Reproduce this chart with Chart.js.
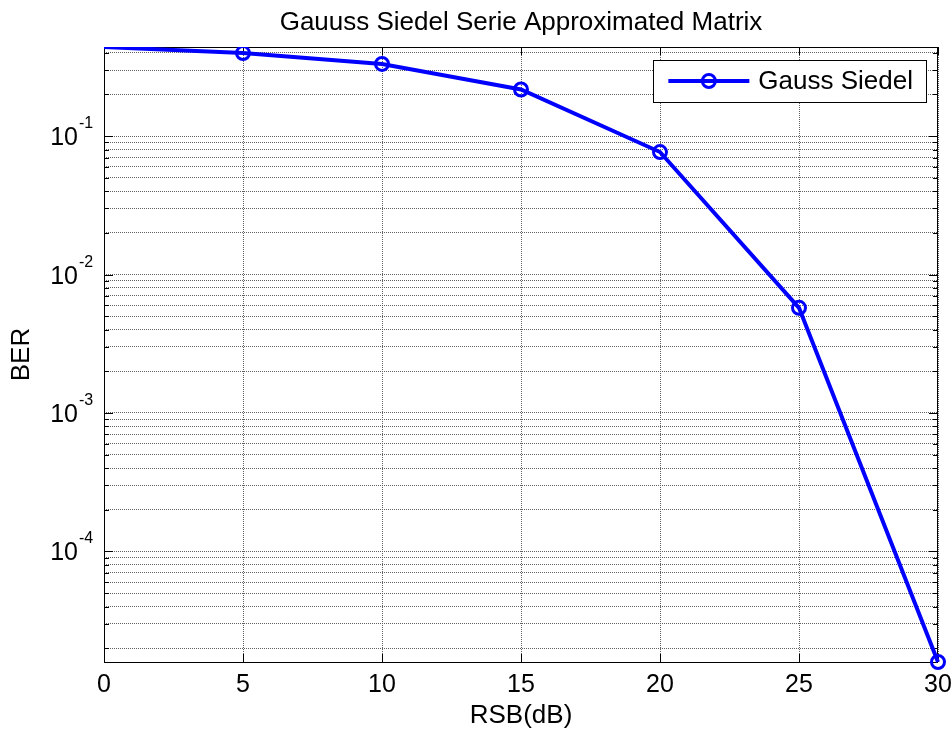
<!DOCTYPE html>
<html>
<head>
<meta charset="utf-8">
<script src="https://cdn.jsdelivr.net/npm/chart.js@4/dist/chart.umd.min.js"></script>
<style>
  html, body { margin: 0; padding: 0; background: #ffffff; }
  canvas { display: block; }
</style>
</head>
<body>
<canvas id="c" width="952" height="732"></canvas>
<script>
// ---- data ----
const snrDb = [0, 5, 10, 15, 20, 25, 30];
const ber = [0.44, 0.398, 0.332, 0.217, 0.0767, 0.00575, 1.59e-5];
const seriesLabel = 'Gauss Siedel';
const xTickValues = [0, 5, 10, 15, 20, 25, 30];
const yMajorTicks = [1e-4, 1e-3, 1e-2, 1e-1];
const yTickBase = '10';
const yTickExponents = ['-4', '-3', '-2', '-1'];
const chartTitle = 'Gauuss Siedel Serie Approximated Matrix';
const xAxisTitle = 'RSB(dB)';
const yAxisTitle = 'BER';

const yMin = Math.min(...ber);
const yMax = Math.max(...ber);
const FONT = '"Liberation Sans", Arial, Helvetica, sans-serif';
const BLUE = '#0000ff';
const GRID = '#5f5f5f';

Chart.defaults.font.family = FONT;
Chart.defaults.color = '#000000';

const isDecade = v => Math.abs(Math.log10(v) - Math.round(Math.log10(v))) < 1e-9;

const framePlugin = {
  id: 'frame',
  beforeDatasetsDraw(chart) {
    const { ctx, chartArea: a, scales: { x, y } } = chart;
    ctx.save();
    ctx.strokeStyle = '#000000';
    ctx.lineWidth = 1;
    ctx.beginPath();
    xTickValues.forEach(v => {
      const px = Math.round(x.getPixelForValue(v)) + 0.5;
      ctx.moveTo(px, a.bottom); ctx.lineTo(px, a.bottom - 8);
      ctx.moveTo(px, a.top); ctx.lineTo(px, a.top + 8);
    });
    y.ticks.forEach(t => {
      const py = Math.round(y.getPixelForValue(t.value)) + 0.5;
      const len = isDecade(t.value) ? 9 : 5;
      ctx.moveTo(a.left, py); ctx.lineTo(a.left + len, py);
      ctx.moveTo(a.right, py); ctx.lineTo(a.right - len, py);
    });
    ctx.stroke();
    ctx.strokeRect(Math.round(a.left) + 0.5, Math.round(a.top) + 0.5,
                   Math.round(a.right - a.left) - 1, Math.round(a.bottom - a.top));
    ctx.restore();
  },
  afterDraw(chart) {
    const { ctx, chartArea: a, scales: { y } } = chart;
    ctx.save();
    // y tick labels: 10 with superscript exponent
    yMajorTicks.forEach((v, i) => {
      const py = y.getPixelForValue(v);
      ctx.fillStyle = '#000000';
      ctx.textBaseline = 'alphabetic';
      ctx.font = '25px ' + FONT;
      ctx.textAlign = 'right';
      ctx.fillText(yTickBase, a.left - 26, py + 9);
      ctx.font = '16px ' + FONT;
      ctx.textAlign = 'left';
      ctx.fillText(yTickExponents[i], a.left - 25, py - 8);
    });
    // legend
    ctx.font = '26px ' + FONT;
    const tw = ctx.measureText(seriesLabel).width;
    const boxRight = a.right - 12;
    const boxTop = a.top + 13;
    const boxH = 42;
    const boxW = 105 + tw + 13;
    const boxLeft = boxRight - boxW;
    ctx.fillStyle = '#ffffff';
    ctx.fillRect(boxLeft, boxTop, boxW, boxH);
    ctx.strokeStyle = '#000000';
    ctx.lineWidth = 1;
    ctx.strokeRect(Math.round(boxLeft) + 0.5, Math.round(boxTop) + 0.5, Math.round(boxW), boxH);
    const cy = boxTop + boxH / 2;
    ctx.strokeStyle = BLUE;
    ctx.lineWidth = 4;
    ctx.beginPath();
    ctx.moveTo(boxLeft + 15, cy); ctx.lineTo(boxLeft + 96, cy);
    ctx.stroke();
    ctx.lineWidth = 3;
    ctx.beginPath();
    ctx.arc(boxLeft + 55.5, cy, 6.5, 0, Math.PI * 2);
    ctx.stroke();
    ctx.fillStyle = '#000000';
    ctx.textAlign = 'left';
    ctx.textBaseline = 'middle';
    ctx.fillText(seriesLabel, boxLeft + 105, cy + 1);
    ctx.restore();
  }
};

new Chart(document.getElementById('c'), {
  type: 'line',
  data: {
    datasets: [{
      label: seriesLabel,
      data: snrDb.map((v, i) => ({ x: v, y: ber[i] })),
      borderColor: BLUE,
      borderWidth: 4,
      backgroundColor: BLUE,
      pointRadius: ctx => (ctx.dataIndex === 0 ? 0 : 6.5),
      pointBorderWidth: 3,
      pointBorderColor: BLUE,
      pointBackgroundColor: 'rgba(0,0,0,0)',
      tension: 0,
      fill: false,
      clip: { left: 0, top: 0, right: 12, bottom: 12 }
    }]
  },
  options: {
    responsive: false,
    animation: false,
    devicePixelRatio: 1,
    events: [],
    layout: { padding: { left: 0, right: 14, top: 0, bottom: 0 } },
    plugins: {
      legend: { display: false },
      tooltip: { enabled: false },
      title: { display: false }
    },
    scales: {
      x: {
        type: 'linear',
        position: 'bottom',
        min: 0,
        max: 30,
        afterBuildTicks: scale => { scale.ticks = xTickValues.map(v => ({ value: v })); },
        ticks: { font: { size: 25 }, color: '#000000', padding: 8, maxRotation: 0, autoSkip: false },
        grid: { color: GRID, lineWidth: 1, drawTicks: false },
        border: { display: false, dash: [1, 1] },
        title: { display: true, text: xAxisTitle, color: '#000000', font: { size: 26 }, padding: { top: 0, bottom: 1 } },
        afterFit: scale => { scale.height = 70; scale.paddingLeft = 0; scale.paddingRight = 0; }
      },
      xTop: {
        type: 'linear',
        position: 'top',
        min: 0,
        max: 30,
        ticks: { display: false },
        grid: { display: false, drawTicks: false },
        border: { display: false },
        title: { display: true, text: chartTitle, color: '#000000', font: { size: 26 }, padding: { top: 7, bottom: 0 } },
        afterFit: scale => { scale.height = 47; scale.paddingLeft = 0; scale.paddingRight = 0; }
      },
      y: {
        type: 'logarithmic',
        min: yMin,
        max: yMax,
        afterBuildTicks: scale => {
          const t = [];
          for (let e = -6; e <= 1; e++) {
            for (let m = 1; m <= 9; m++) {
              const v = m * Math.pow(10, e);
              if (v > yMin && v < yMax) t.push({ value: v });
            }
          }
          scale.ticks = t;
        },
        ticks: { display: false, autoSkip: false },
        grid: { color: GRID, lineWidth: 1, drawTicks: false },
        border: { display: false, dash: [1, 1] },
        title: { display: true, text: yAxisTitle, color: '#000000', font: { size: 26 }, padding: { top: 6, bottom: 0 } },
        afterFit: scale => { scale.width = 104; scale.paddingTop = 0; scale.paddingBottom = 0; }
      }
    }
  },
  plugins: [framePlugin]
});
</script>
</body>
</html>
